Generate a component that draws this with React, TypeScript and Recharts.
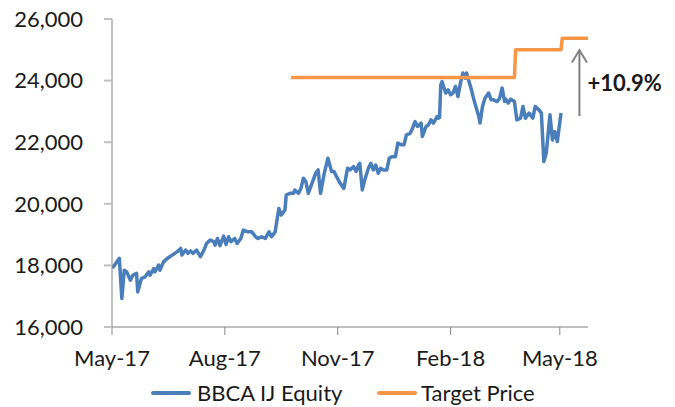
import React from "react";
import {
  LineChart,
  Line,
  XAxis,
  YAxis,
  Legend,
  ReferenceLine,
} from "recharts";

// Days since 1 May 2017
const priceDays = [
  0, 1, 4, 6, 8, 10, 12, 15, 17, 20, 21, 24, 27, 30, 31, 34, 35, 38, 39, 42,
  45, 49, 53, 56, 57, 60, 62, 64, 66, 69, 72, 75, 77, 80, 83, 84, 86, 88, 91,
  93, 95, 97, 100, 102, 105, 107, 111, 114, 117, 119, 122, 125, 128, 130, 133,
  136, 138, 141, 142, 145, 148, 149, 152, 154, 156, 158, 160, 163, 166, 168,
  170, 173, 176, 179, 181, 183, 186, 189, 192, 194, 197, 199, 201, 202, 204,
  206, 209, 211, 213, 215, 217, 219, 221, 224, 226, 228, 231, 233, 236, 238,
  240, 243, 245, 247, 249, 252, 253, 256, 258, 260, 262, 265, 266, 267, 268,
  269, 272, 274, 276, 278, 280, 282, 284, 286, 288, 289, 291, 293, 295, 297,
  299, 300, 302, 304, 307, 309, 311, 314, 316, 318, 320, 321, 323, 325, 328,
  330, 333, 335, 337, 340, 343, 345, 348, 350, 352, 354, 355, 357, 359, 361,
  363, 366,
];

const priceValues = [
  17975, 17950, 18115, 18230, 16925, 17845, 17790, 17520, 17680, 17740, 17140,
  17575, 17630, 17790, 17680, 17900, 17790, 18010, 17845, 18115, 18225, 18335,
  18440, 18550, 18335, 18500, 18390, 18470, 18390, 18500, 18280, 18500, 18710,
  18820, 18770, 18660, 18875, 18640, 18950, 18680, 18930, 18770, 18875, 18715,
  18875, 19145, 19090, 19090, 18930, 18875, 18930, 18875, 19090, 18930, 19090,
  19850, 19635, 19800, 20285, 20340, 20340, 20450, 20340, 20500, 20830, 20720,
  20340, 20665, 20990, 21100, 20340, 20990, 21480, 21045, 21045, 20880, 20665,
  20500, 21155, 21100, 21205, 21050, 21260, 21315, 20450, 20775, 21155, 21315,
  21100, 21260, 20990, 21155, 21100, 21100, 21480, 21530, 21530, 21970, 21915,
  21915, 22240, 22290, 22455, 22670, 22510, 22620, 22185, 22510, 22565, 22725,
  22620, 22835, 22780, 22800, 23865, 23970, 23595, 23700, 23540, 23600, 23810,
  23485, 23920, 24245, 24080, 24245, 23970, 23700, 23375, 23105, 22835, 22620,
  23160, 23430, 23595, 23375, 23375, 23320, 23430, 23760, 23320, 23400, 23270,
  23400, 23320, 22725, 22780, 23160, 22780, 22945, 22780, 23160, 23050, 22945,
  21370, 21650, 22075, 22890, 22075, 22345, 22020, 22945,
];

const targetDays = [146, 328, 329, 366, 367, 388];
const targetValues = [24100, 24100, 25000, 25000, 25375, 25375];

const xTickDays = [0, 92, 184, 276, 365];
const xTickLabels = ["May-17", "Aug-17", "Nov-17", "Feb-18", "May-18"];
const yTicks = [16000, 18000, 20000, 22000, 24000, 26000];

const upsideLabel = "+10.9%";
const arrowDay = 381;
const arrowFrom = 22850;
const arrowTo = 24990;

const seriesNames = ["BBCA IJ Equity", "Target Price"];
const BLUE = "#4A7EBB";
const ORANGE = "#F79646";
const FONT = "Lato, 'Liberation Sans', sans-serif";
const TEXT = "#1a1a1a";

const priceData = priceDays.map((d, i) => ({ day: d, price: priceValues[i] }));
const targetData = targetDays.map((d, i) => ({ day: d, target: targetValues[i] }));

const ArrowShape = (props: any) => {
  const { x1, y1, x2, y2 } = props;
  const top = Math.min(y1, y2);
  const bottom = Math.max(y1, y2);
  return (
    <g>
      <line x1={x1} y1={bottom} x2={x2} y2={top} stroke="#808080" strokeWidth={2} />
      <polyline
        points={`${x1 - 7.5},${top + 12.5} ${x1},${top} ${x1 + 7.5},${top + 12.5}`}
        fill="none"
        stroke="#808080"
        strokeWidth={2}
      />
      <text
        x={x1 + 8}
        y={(top + bottom) / 2}
        dy="0.36em"
        fontFamily={FONT}
        fontWeight="bold"
        fontSize={22}
        fill={TEXT}
      >
        {upsideLabel}
      </text>
    </g>
  );
};

const LegendContent = () => (
  <div
    style={{
      display: "flex",
      alignItems: "center",
      fontFamily: FONT,
      fontSize: 22,
      lineHeight: "26px",
      color: TEXT,
      whiteSpace: "nowrap",
    }}
  >
    <div style={{ display: "flex", alignItems: "center", width: 226 }}>
      <span
        style={{
          display: "inline-block",
          width: 40,
          height: 4,
          background: BLUE,
          borderRadius: 2,
          marginRight: 6,
        }}
      />
      <span>{seriesNames[0]}</span>
    </div>
    <div style={{ display: "flex", alignItems: "center" }}>
      <span
        style={{
          display: "inline-block",
          width: 40,
          height: 4,
          background: ORANGE,
          borderRadius: 2,
          marginRight: 4,
        }}
      />
      <span>{seriesNames[1]}</span>
    </div>
  </div>
);

export default function App() {
  return (
    <div style={{ width: 675, height: 407, background: "#fff", position: "relative" }}>
      <style>{`body{margin:0}`}</style>
      <LineChart
        width={675}
        height={407}
        margin={{ top: 19, right: 87, bottom: 0, left: 0 }}
      >
        <XAxis
          type="number"
          dataKey="day"
          domain={[0, 388]}
          ticks={xTickDays}
          allowDataOverflow
          height={80}
          tickFormatter={(v: number) => xTickLabels[xTickDays.indexOf(v)] ?? ""}
          axisLine={{ stroke: "#BFBFBF", strokeWidth: 2 }}
          tickLine={{ stroke: "#868686", strokeWidth: 1 }}
          tickSize={8}
          tickMargin={15}
          tick={{ fontFamily: FONT, fontSize: 22, fill: TEXT }}
          interval={0}
        />
        <YAxis
          type="number"
          domain={[16000, 26000]}
          ticks={yTicks}
          allowDataOverflow
          width={112}
          tickFormatter={(v: number) => v.toLocaleString("en-US")}
          axisLine={{ stroke: "#868686", strokeWidth: 1 }}
          tickLine={{ stroke: "#BFBFBF", strokeWidth: 2 }}
          tickSize={8}
          tickMargin={21}
          tick={{ fontFamily: FONT, fontSize: 22, fill: TEXT }}
          interval={0}
        />
        <Line
          data={priceData}
          dataKey="price"
          name={seriesNames[0]}
          type="linear"
          stroke={BLUE}
          strokeWidth={3.5}
          strokeLinejoin="round"
          dot={false}
          isAnimationActive={false}
        />
        <Line
          data={targetData}
          dataKey="target"
          name={seriesNames[1]}
          type="linear"
          stroke={ORANGE}
          strokeWidth={3.5}
          strokeLinejoin="round"
          dot={false}
          isAnimationActive={false}
        />
        <ReferenceLine
          segment={[
            { x: arrowDay, y: arrowFrom },
            { x: arrowDay, y: arrowTo },
          ]}
          shape={ArrowShape}
          ifOverflow="visible"
        />
        <Legend
          verticalAlign="middle"
          align="center"
          content={LegendContent}
          wrapperStyle={{ position: "absolute", left: 151, top: 380, width: 500, height: 26 }}
        />
      </LineChart>
    </div>
  );
}
